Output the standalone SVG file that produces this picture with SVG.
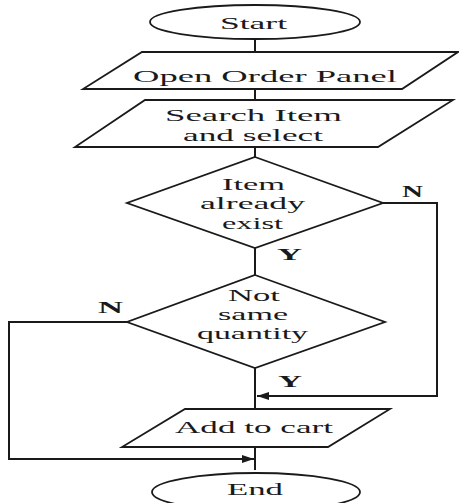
<svg xmlns="http://www.w3.org/2000/svg" width="459" height="503" viewBox="0 0 459 503">
  <style>
    .shape { fill: #fff; stroke: #1a1a1a; stroke-width: 1.8; }
    .line { fill: none; stroke: #1a1a1a; stroke-width: 2; }
    .txt { font-family: "Liberation Serif", "Times New Roman", serif; fill: #1a1a1a; }
    .box { font-size: 17px; }
    .dec { font-size: 16px; }
    .lbl { font-size: 16px; font-weight: bold; }
  </style>
  <defs>
    <marker id="arrow" viewBox="0 0 12 8" refX="12" refY="4" markerWidth="12" markerHeight="8" markerUnits="userSpaceOnUse" orient="auto">
      <path d="M0,0 L12,4 L0,8 Z" fill="#1a1a1a"/>
    </marker>
  </defs>
  <rect width="459" height="503" fill="#fff"/>

  <!-- connectors -->
  <g id="connectors">
    <path class="line" d="M255,39 V52"/>
    <path class="line" d="M255,89 V100"/>
    <path class="line" d="M255,147 V157"/>
    <path class="line" d="M255,248 V275"/>
    <path class="line" d="M255,368 V409"/>
    <path class="line" d="M255,447 V470"/>
    <path class="line" d="M383,203 H437 V396 H257" marker-end="url(#arrow)"/>
    <path class="line" d="M127,322 H9 V459 H254" marker-end="url(#arrow)"/>
    <text class="txt lbl" x="402" y="197" textLength="21" lengthAdjust="spacingAndGlyphs">N</text>
    <text class="txt lbl" x="277" y="260" textLength="25" lengthAdjust="spacingAndGlyphs">Y</text>
    <text class="txt lbl" x="98" y="313" textLength="25" lengthAdjust="spacingAndGlyphs">N</text>
    <text class="txt lbl" x="278" y="387" textLength="24" lengthAdjust="spacingAndGlyphs">Y</text>
  </g>

  <g id="start">
    <ellipse class="shape" cx="255" cy="22" rx="105" ry="17"/>
    <text class="txt box" x="220" y="29" textLength="67" lengthAdjust="spacingAndGlyphs">Start</text>
  </g>

  <g id="open-order-panel">
    <polygon class="shape" points="142,52 458,52 402,89 83,89"/>
    <text class="txt box" x="133" y="82" textLength="264" lengthAdjust="spacingAndGlyphs">Open Order Panel</text>
  </g>

  <g id="search-item">
    <polygon class="shape" points="145,100 453,100 378,147 75,147"/>
    <text class="txt box" x="165" y="121" textLength="177" lengthAdjust="spacingAndGlyphs">Search Item</text>
    <text class="txt box" x="183" y="141" textLength="140" lengthAdjust="spacingAndGlyphs">and select</text>
  </g>

  <g id="item-exists">
    <polygon class="shape" points="255,157 383,203 255,248 127,203"/>
    <text class="txt dec" x="222" y="190" textLength="63" lengthAdjust="spacingAndGlyphs">Item</text>
    <text class="txt dec" x="200" y="209" textLength="105" lengthAdjust="spacingAndGlyphs">already</text>
    <text class="txt dec" x="222" y="229" textLength="61" lengthAdjust="spacingAndGlyphs">exist</text>
  </g>

  <g id="not-same-quantity">
    <polygon class="shape" points="255,275 385,322 255,368 127,322"/>
    <text class="txt dec" x="228" y="301" textLength="52" lengthAdjust="spacingAndGlyphs">Not</text>
    <text class="txt dec" x="218" y="320" textLength="70" lengthAdjust="spacingAndGlyphs">same</text>
    <text class="txt dec" x="197" y="339" textLength="111" lengthAdjust="spacingAndGlyphs">quantity</text>
  </g>

  <g id="add-to-cart">
    <polygon class="shape" points="185,409 390,409 328,447 122,447"/>
    <text class="txt box" x="175" y="433" textLength="158" lengthAdjust="spacingAndGlyphs">Add to cart</text>
  </g>

  <g id="end">
    <ellipse class="shape" cx="256" cy="492" rx="104" ry="19"/>
    <text class="txt box" x="227" y="495" textLength="56" lengthAdjust="spacingAndGlyphs">End</text>
  </g>
</svg>
